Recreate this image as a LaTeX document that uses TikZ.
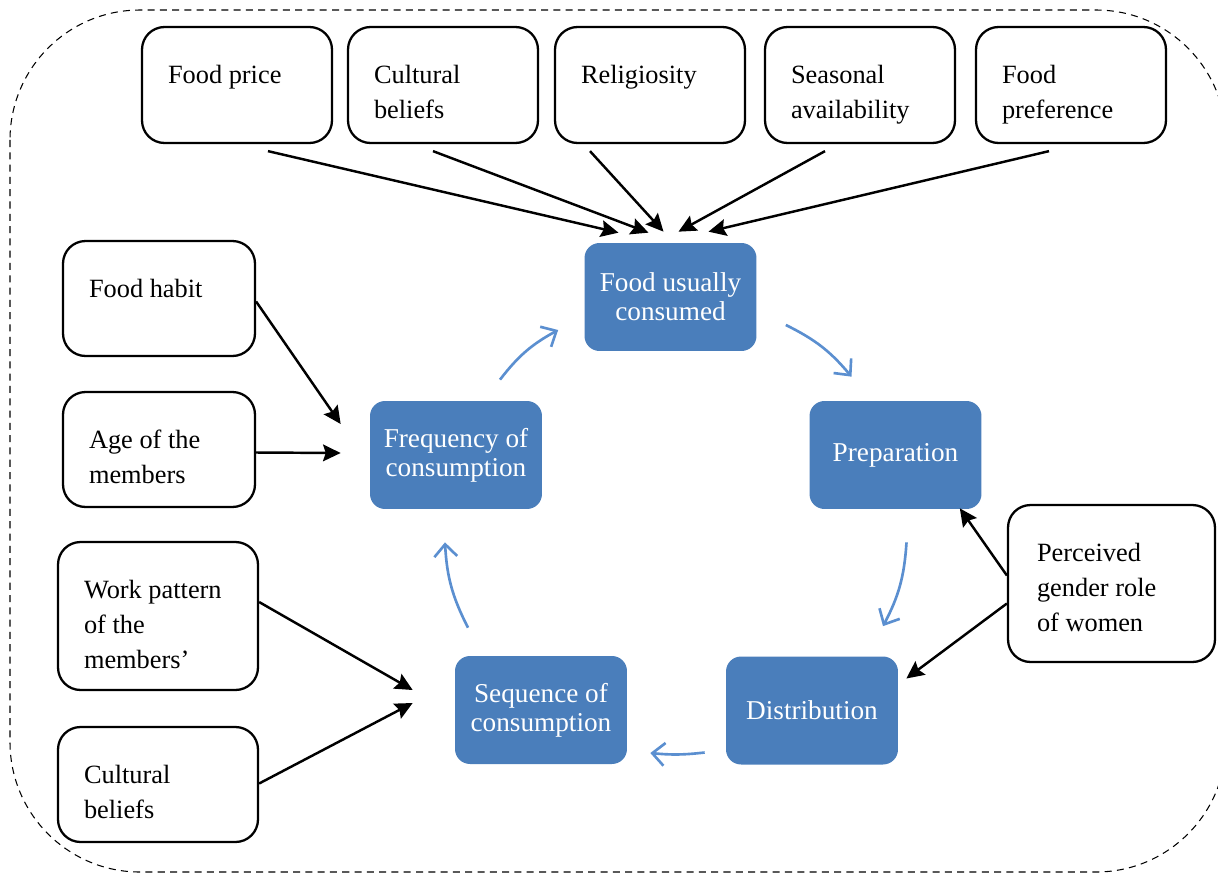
\documentclass[tikz,border=0pt]{standalone}
\usepackage{fontspec}
\setmainfont{Liberation Serif}
\usepackage{xcolor}
\usetikzlibrary{
		calc,
		arrows.meta,
		positioning
	}
\definecolor{boxblue}{HTML}{4A7EBB}
\definecolor{cycblue}{HTML}{5B8FD0}
\tikzset{
		>={Stealth[length=10pt,width=9.5pt,inset=1.5pt]}
	}
\newcommand{\boxtext}[3]{\begin{minipage}[t][#1][t]{#2}\raggedright\vspace*{0.64cm}\strut #3\end{minipage}}

\begin{document}
\begin{tikzpicture}[x=0.02cm,y=-0.02cm,
        factor/.style={draw, line width=1.3pt, rounded corners=0.45cm, inner xsep=0.52cm, inner ysep=0pt, font=\fontsize{15}{20}\selectfont},
        stage/.style={fill=boxblue, text=white, rounded corners=0.3cm, minimum width=3.44cm, minimum height=2.16cm, align=center, font=\fontsize{15.5}{16.5}\selectfont},
        cyc/.style={draw=cycblue, line width=1.5pt, -{Straight Barb[length=7pt,width=13pt]}},
        infl/.style={->, line width=1.4pt}]
        \useasboundingbox (0,0) rectangle (1218,873);

        % the dashed frame
        \draw[line width=0.6pt, dash pattern=on 4pt off 3pt, rounded corners=2.6cm] (10,10) rectangle (1226,872);

        % the factors on top
        \node[factor] (price) at (237,85) {\boxtext{2.32cm}{2.76cm}{Food price}};
        \node[factor] (cultA) at (443,85) {\boxtext{2.32cm}{2.76cm}{Cultural\\beliefs}};
        \node[factor] (relig) at (650,85) {\boxtext{2.32cm}{2.76cm}{Religiosity}};
        \node[factor] (seas) at (860,85) {\boxtext{2.32cm}{2.76cm}{Seasonal\\availability}};
        \node[factor] (pref) at (1071,85) {\boxtext{2.32cm}{2.76cm}{Food\\preference}};

        % the factors on the sides
        \node[factor] (habit) at (159,298.5) {\boxtext{2.30cm}{2.80cm}{Food habit}};
        \node[factor] (age) at (159,449.5) {\boxtext{2.30cm}{2.80cm}{Age of the\\members}};
        \node[factor] (work) at (158,616) {\boxtext{2.96cm}{2.96cm}{Work pattern\\of the\\members’}};
        \node[factor] (cultB) at (158,784.5) {\boxtext{2.30cm}{2.96cm}{Cultural\\beliefs}};
        \node[factor, inner xsep=0.58cm] (women) at (1111.5,583.5) {\boxtext{3.14cm}{2.98cm}{Perceived\\gender role\\of women}};

        % the stages of the cycle
        \node[stage] (food) at (670.5,297) {Food usually\\consumed};
        \node[stage] (prep) at (895.5,455) {Preparation};
        \node[stage] (dist) at (812,710.5) {Distribution};
        \node[stage] (seq) at (541,710) {Sequence of\\consumption};
        \node[stage] (freq) at (456,455) {Frequency of\\consumption};

        % the cycle
        \draw[cyc] ($(freq.north)+(44,-21)$) to[bend left=12] ($(food.west)+(-26,33)$);
        \draw[cyc] ($(food.east)+(29,28)$) to[bend left=12] ($(prep.north)+(-44,-24)$);
        \draw[cyc] ($(prep.south)+(11,33)$) to[bend left=12] ($(dist.north)+(71,-30)$);
        \draw[cyc] ($(dist.west)+(-21,42)$) to[bend left=6] ($(seq.east)+(23,43)$);
        \draw[cyc] ($(seq.north)+(-73,-28)$) to[bend left=12] ($(freq.south)+(-11,33)$);

        % the arrows from the factors
        \draw[infl] ($(price.south)+(31,7)$) -- ($(food.north)+(-52,-10)$);
        \draw[infl] ($(cultA.south)+(-10,7)$) -- ($(food.north)+(-22,-10)$);
        \draw[infl] ($(relig.south)+(-60,7)$) -- ($(food.north)+(-7,-11)$);
        \draw[infl] ($(seas.south)+(-35,7)$) -- ($(food.north)+(8,-11)$);
        \draw[infl] ($(pref.south)+(-22,7)$) -- ($(food.north)+(38,-11)$);
        \draw[infl] ($(habit.east)+(0,3)$) -- ($(freq.west)+(-29,-31)$);
        \draw[infl] ($(age.east)+(0,3)$) -- ($(freq.west)+(-29,-2)$);
        \draw[infl] ($(work.east)+(0,-14)$) -- ($(seq.west)+(-42,-20)$);
        \draw[infl] ($(cultB.east)+(0,-1)$) -- ($(seq.west)+(-42,-7)$);
        \draw[infl] ($(women.west)+(0,-8)$) -- ($(prep.south east)+(-22,-1)$);
        \draw[infl] ($(women.west)+(0,20)$) -- ($(dist.east)+(8,-32)$);

    \end{tikzpicture}
\end{document}
